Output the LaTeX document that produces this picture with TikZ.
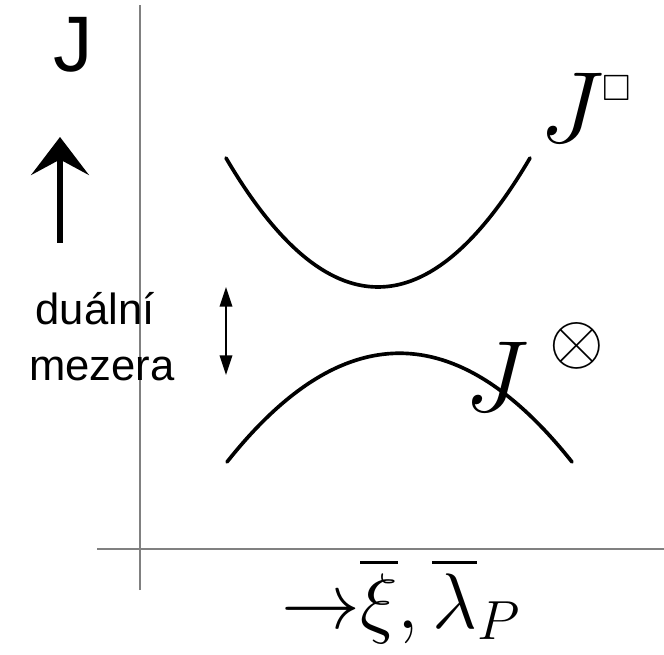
\RequirePackage{fix-cm}
\documentclass[tikz,border=0pt]{standalone}
\usepackage{amsmath,amssymb,bm}
\usepackage{fontspec}
\newfontfamily\arialfont{Liberation Sans}
\usetikzlibrary{arrows.meta}
\begin{document}
\begin{tikzpicture}[x=0.025cm,y=-0.025cm,>=stealth,
  axis/.style={draw=black!50,line width=1.2pt},
  band/.style={line width=2.6pt,line cap=round},
  sanslabel/.style={font=\arialfont\fontsize{31}{36}\selectfont,inner sep=0pt,anchor=base},
  mathlabel/.style={inner sep=0pt,anchor=base,font=\fontsize{72}{74}\selectfont}]
\useasboundingbox (0,0) rectangle (664,655);
% axes
\coordinate (ytop) at (140,5);
\coordinate (ybot) at (140,590);
\coordinate (xleft) at (97,549);
\coordinate (xright) at (664,549);
\draw[axis] (ybot) -- (ytop);
\draw[axis] (xleft) -- (xright);

% the two branches
\draw[band] (226,158) .. controls (327,330) and (429,330) .. (530,158);
\draw[band] (227,462) .. controls (342,317) and (457,317) .. (572,462);

% vertical label with arrow
\node[anchor=base,inner sep=0pt,font=\arialfont\fontsize{56}{60}\selectfont] (jtext) at (73,72) {J};
\coordinate (up0) at (60,243);
\coordinate (up1) at (60,137);
\draw[line width=4.3pt,-{Stealth[length=27pt,width=41pt,inset=11pt]}] (up0) -- (up1);

% duality gap
\node[sanslabel] (dual) at (95,325) {duální};
\node[sanslabel] (mez) at (102,380) {mezera};
\coordinate (gap0) at (226,287);
\coordinate (gap1) at (226,375);
\draw[line width=1.1pt,{Triangle[length=14pt,width=9pt]}-{Triangle[length=14pt,width=9pt]}] (gap0) -- (gap1);

% branch labels
\node[mathlabel] (jbox) at (572,143) {$J$};
\node[inner sep=0pt,font=\fontsize{26}{28}\selectfont] (boxsym) at (617,88) {$\square$};
\node[mathlabel] (jprod) at (497,412) {$J$};
\node[inner sep=0pt,font=\fontsize{50}{52}\selectfont] (prodsym) at (577,346) {$\otimes$};

% horizontal label
\node[mathlabel,font=\fontsize{56}{60}\selectfont] (xtext) at (401,628) {${\rightarrow}\overline{\xi}{,}\,\overline{\lambda}_P$};
\end{tikzpicture}
\end{document}
